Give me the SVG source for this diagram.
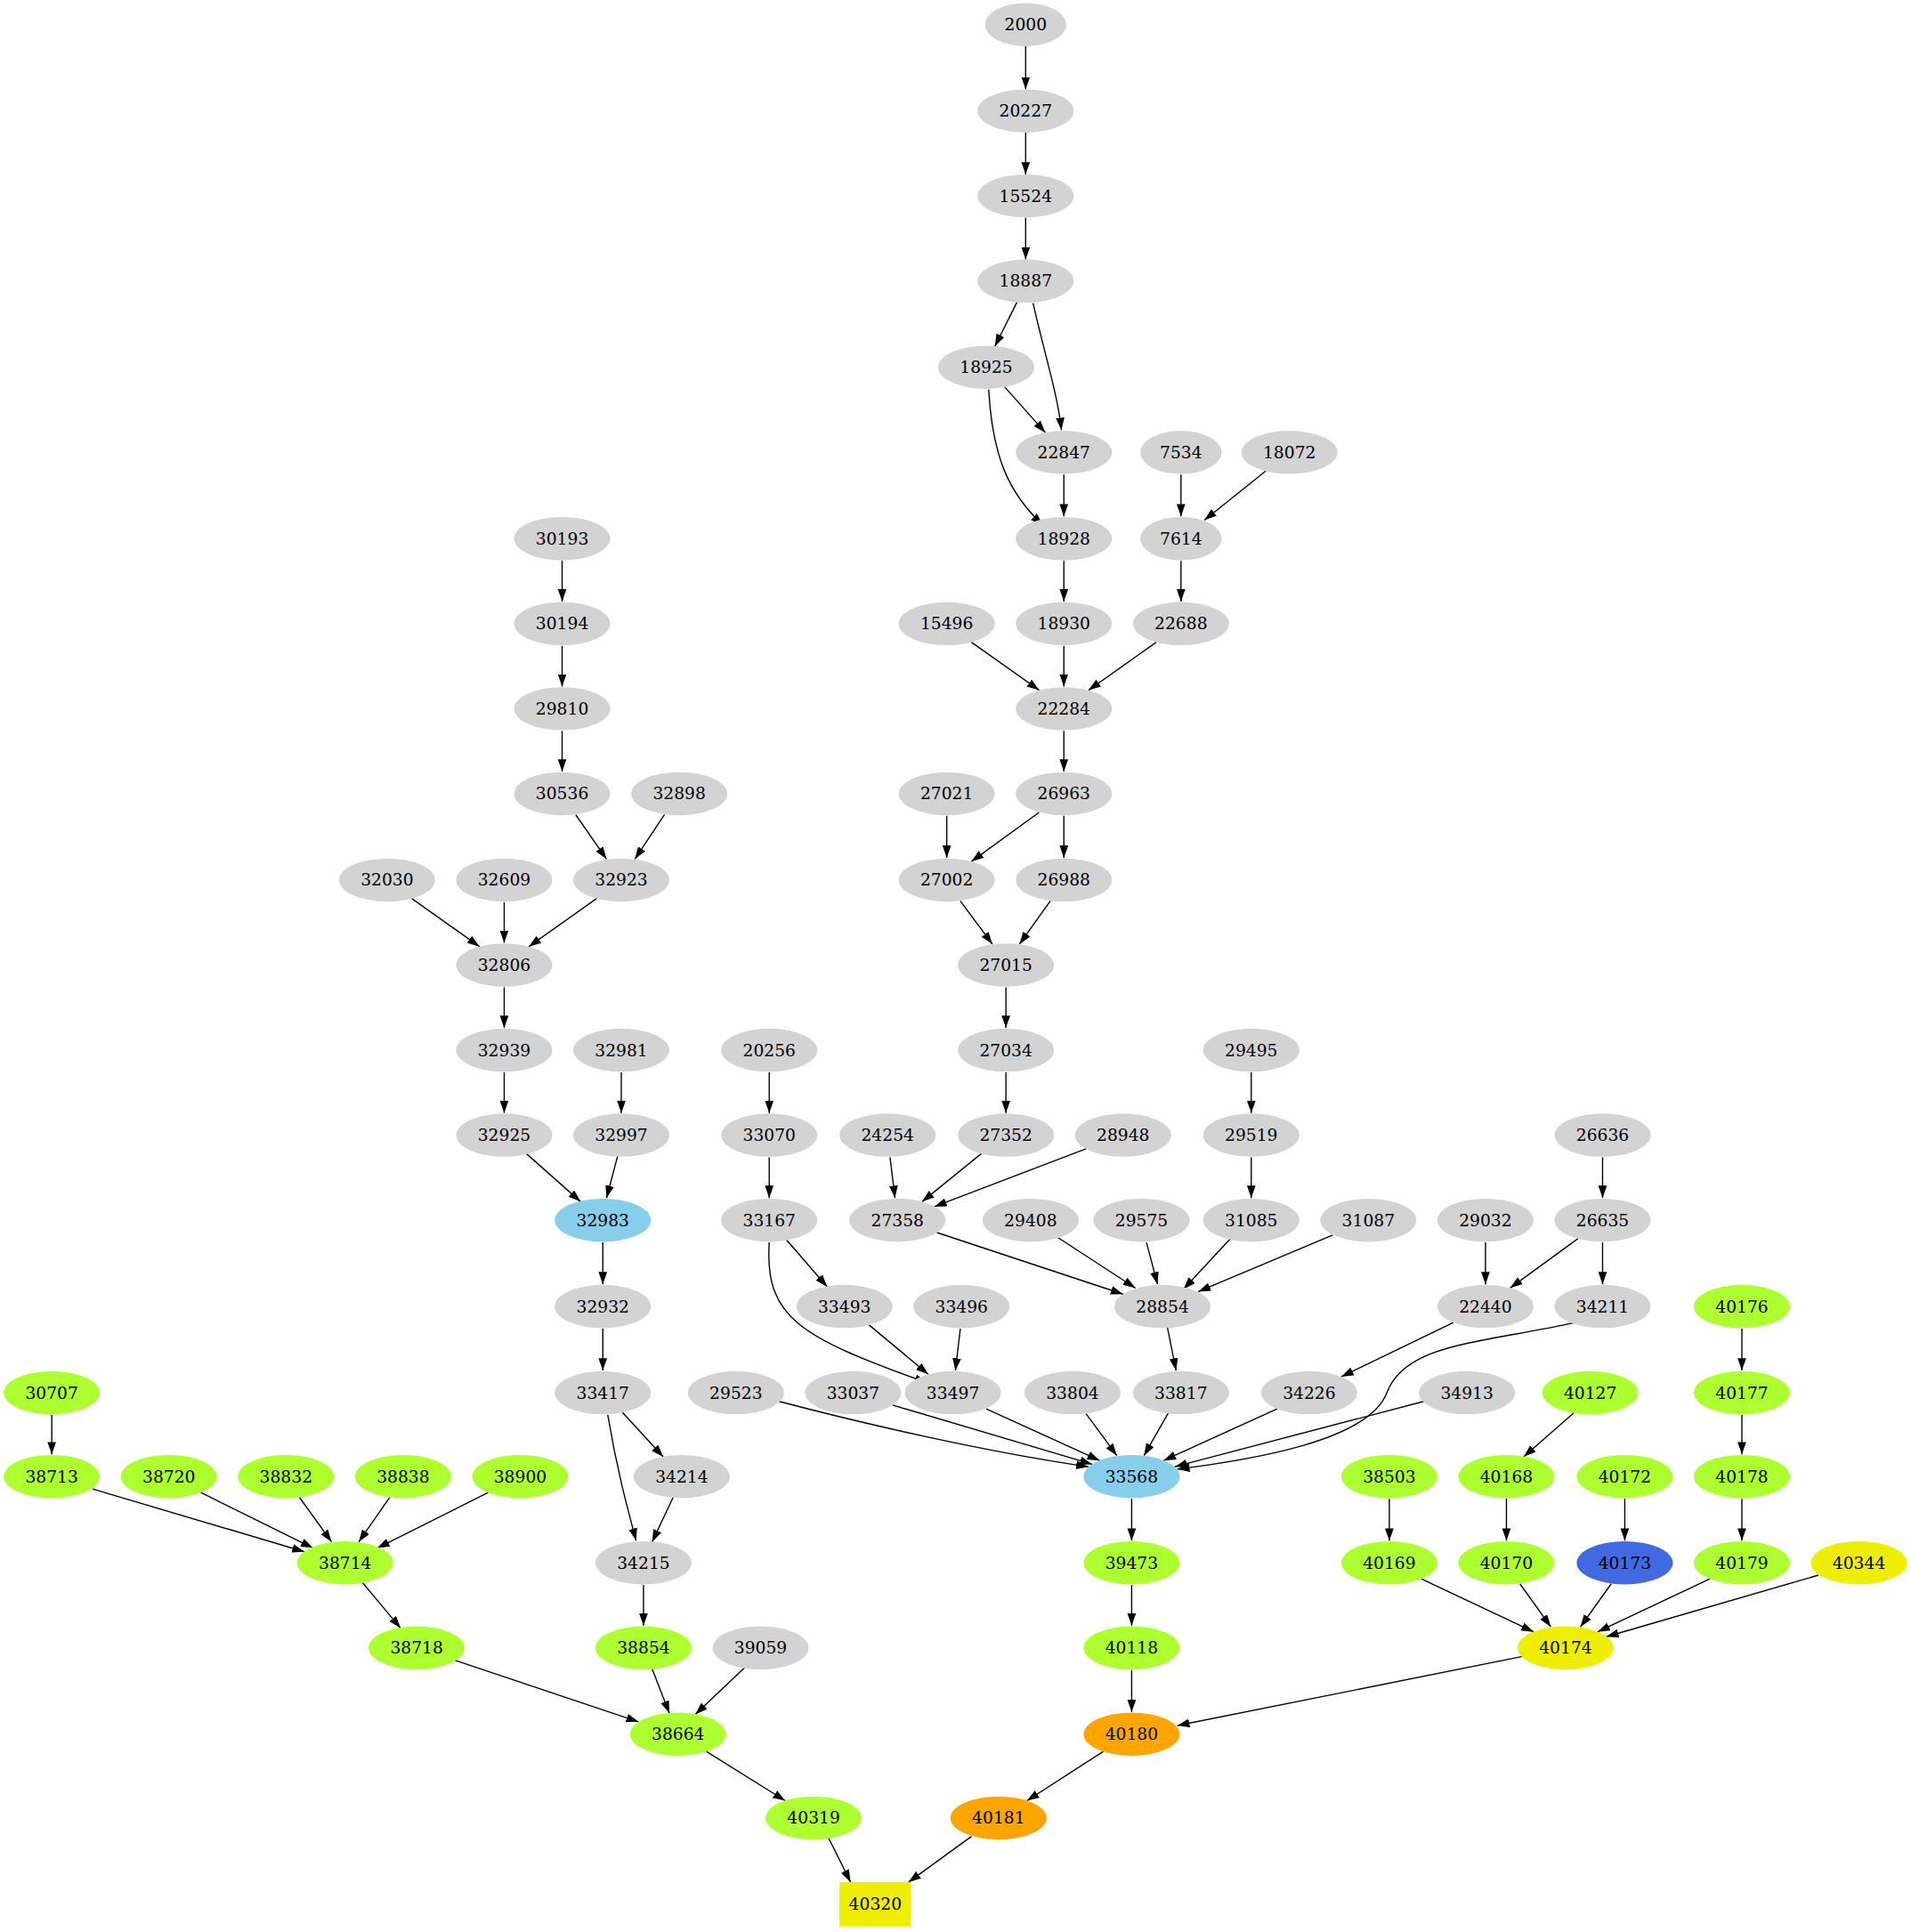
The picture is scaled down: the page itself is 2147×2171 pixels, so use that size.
<svg xmlns="http://www.w3.org/2000/svg" width="2147" height="2171" viewBox="0 0 2147 2171">
<style>
text{font-family:"DejaVu Serif","Liberation Serif",serif;font-size:13.5px;text-anchor:middle;dominant-baseline:central;fill:#000}
.e path{fill:none;stroke:#000;stroke-width:1;marker-end:url(#a)}
.g{fill:#d3d3d3}.gr{fill:#adff2f}.b{fill:#87ceeb}.o{fill:#ffa500}.r{fill:#4169e1}.y{fill:#eeee00}
</style>
<defs><marker id="a" markerUnits="userSpaceOnUse" markerWidth="12" markerHeight="10" refX="10" refY="3.5" orient="auto"><path d="M0,0L10,3.5L0,7z" fill="#000"/></marker></defs>
<rect width="2147" height="2171" fill="#fff"/>
<g transform="scale(1.385)">
<g class="e" id="edges">
<path d="M832,37.5L832,72.5"/><path d="M832,107.5L832,141.5"/><path d="M832,176.5L832,210.5"/>
<path d="M825,245L807,281"/><path d="M838,246C848,290 858,320 861,349"/><path d="M815,314L848,351"/>
<path d="M802,316C805,370 818,400 846,426"/><path d="M863,385L863,419"/><path d="M958,385L958,419"/>
<path d="M1027,382L977,422"/><path d="M456,455L456,488"/><path d="M863,455L863,488"/><path d="M958,455L958,488"/>
<path d="M788,521L843,560"/><path d="M863,524L863,557"/><path d="M938,521L883,560"/><path d="M456,524L456,557"/>
<path d="M863,593L863,626"/><path d="M456,593L456,626"/><path d="M768,662L768,696"/><path d="M843,659L788,699"/>
<path d="M863,662L863,696"/><path d="M467,661L492,697"/><path d="M539,661L515,697"/><path d="M334,729L389,768"/>
<path d="M409,732L409,765"/><path d="M484,729L429,768"/><path d="M779,731L805,766"/><path d="M852,731L827,766"/>
<path d="M409,801L409,834"/><path d="M816,801L816,834"/><path d="M504,870L504,903"/><path d="M624,870L624,903"/>
<path d="M816,870L816,903"/><path d="M1015,870L1015,903"/><path d="M409,870L409,903"/><path d="M427,936L471,975"/>
<path d="M501,938L492,972"/><path d="M624,939L624,972"/><path d="M722,939L726,972"/><path d="M796,936L748,975"/>
<path d="M881,932L758,979"/><path d="M1015,939L1015,972"/><path d="M1300,939L1300,972"/><path d="M489,1008L489,1042"/>
<path d="M638,1006L671,1044"/><path d="M624,1008C620,1070 650,1085 752,1122"/><path d="M705,1075L753,1115"/>
<path d="M779,1078L775,1112"/><path d="M760,1000L911,1050"/><path d="M858,1004L921,1045"/><path d="M930,1008L939,1042"/>
<path d="M998,1005L960,1046"/><path d="M1081,1002L972,1048"/><path d="M1205,1008L1205,1042"/><path d="M1280,1005L1225,1045"/>
<path d="M1300,1008L1300,1042"/><path d="M489,1078L489,1112"/><path d="M947,1077L954,1112"/><path d="M1179,1073L1088,1117"/>
<path d="M1413,1078L1413,1112"/><path d="M42,1148L42,1180"/><path d="M505,1146L538,1182"/>
<path d="M493,1148C500,1190 508,1220 516,1250"/><path d="M546,1215L529,1251"/>
<path d="M632,1137C700,1155 800,1178 883,1190"/><path d="M724,1140L886,1188"/><path d="M800,1143L892,1185"/>
<path d="M881,1147L906,1181"/><path d="M948,1146L928,1181"/><path d="M1036,1143L944,1185"/><path d="M1155,1137L953,1190"/>
<path d="M1278,1073C1200,1090 1140,1090 1125,1130C1110,1170 1010,1185 955,1192"/>
<path d="M1277,1146L1236,1182"/><path d="M1413,1148L1413,1180"/><path d="M75,1208L247,1259"/><path d="M163,1211L254,1256"/>
<path d="M243,1215L269,1251"/><path d="M316,1215L291,1251"/><path d="M396,1211L306,1256"/><path d="M918,1216L918,1250"/>
<path d="M1127,1216L1127,1250"/><path d="M1222,1216L1222,1250"/><path d="M1318,1216L1318,1250"/><path d="M1413,1216L1413,1250"/>
<path d="M294,1284L325,1321"/><path d="M522,1286L522,1319"/><path d="M918,1286L918,1319"/><path d="M1153,1281L1244,1324"/>
<path d="M1233,1285L1258,1320"/><path d="M1307,1285L1282,1320"/><path d="M1387,1281L1296,1324"/><path d="M1475,1278L1303,1328"/>
<path d="M369,1347L518,1397"/><path d="M529,1354L543,1390"/><path d="M604,1353L564,1391"/><path d="M918,1355L918,1389"/>
<path d="M1235,1344L955,1400"/><path d="M573,1421L637,1461"/><path d="M895,1421L833,1461"/>
<path d="M672,1491L690,1527"/><path d="M788,1490L737,1527"/>
</g>
<g id="n2000"><ellipse class="g" cx="832" cy="20" rx="33" ry="17.5"/><text x="832" y="20">2000</text></g>
<g id="n20227"><ellipse class="g" cx="832" cy="90" rx="39" ry="17.5"/><text x="832" y="90">20227</text></g>
<g id="n15524"><ellipse class="g" cx="832" cy="159" rx="39" ry="17.5"/><text x="832" y="159">15524</text></g>
<g id="n18887"><ellipse class="g" cx="832" cy="228" rx="39" ry="17.5"/><text x="832" y="228">18887</text></g>
<g id="n18925"><ellipse class="g" cx="800" cy="298" rx="39" ry="17.5"/><text x="800" y="298">18925</text></g>
<g id="n22847"><ellipse class="g" cx="863" cy="367" rx="39" ry="17.5"/><text x="863" y="367">22847</text></g>
<g id="n7534"><ellipse class="g" cx="958" cy="367" rx="33" ry="17.5"/><text x="958" y="367">7534</text></g>
<g id="n18072"><ellipse class="g" cx="1046" cy="367" rx="39" ry="17.5"/><text x="1046" y="367">18072</text></g>
<g id="n30193"><ellipse class="g" cx="456" cy="437" rx="39" ry="17.5"/><text x="456" y="437">30193</text></g>
<g id="n18928"><ellipse class="g" cx="863" cy="437" rx="39" ry="17.5"/><text x="863" y="437">18928</text></g>
<g id="n7614"><ellipse class="g" cx="958" cy="437" rx="33" ry="17.5"/><text x="958" y="437">7614</text></g>
<g id="n30194"><ellipse class="g" cx="456" cy="506" rx="39" ry="17.5"/><text x="456" y="506">30194</text></g>
<g id="n15496"><ellipse class="g" cx="768" cy="506" rx="39" ry="17.5"/><text x="768" y="506">15496</text></g>
<g id="n18930"><ellipse class="g" cx="863" cy="506" rx="39" ry="17.5"/><text x="863" y="506">18930</text></g>
<g id="n22688"><ellipse class="g" cx="958" cy="506" rx="39" ry="17.5"/><text x="958" y="506">22688</text></g>
<g id="n29810"><ellipse class="g" cx="456" cy="575" rx="39" ry="17.5"/><text x="456" y="575">29810</text></g>
<g id="n22284"><ellipse class="g" cx="863" cy="575" rx="39" ry="17.5"/><text x="863" y="575">22284</text></g>
<g id="n30536"><ellipse class="g" cx="456" cy="644" rx="39" ry="17.5"/><text x="456" y="644">30536</text></g>
<g id="n32898"><ellipse class="g" cx="551" cy="644" rx="39" ry="17.5"/><text x="551" y="644">32898</text></g>
<g id="n27021"><ellipse class="g" cx="768" cy="644" rx="39" ry="17.5"/><text x="768" y="644">27021</text></g>
<g id="n26963"><ellipse class="g" cx="863" cy="644" rx="39" ry="17.5"/><text x="863" y="644">26963</text></g>
<g id="n32030"><ellipse class="g" cx="314" cy="714" rx="39" ry="17.5"/><text x="314" y="714">32030</text></g>
<g id="n32609"><ellipse class="g" cx="409" cy="714" rx="39" ry="17.5"/><text x="409" y="714">32609</text></g>
<g id="n32923"><ellipse class="g" cx="504" cy="714" rx="39" ry="17.5"/><text x="504" y="714">32923</text></g>
<g id="n27002"><ellipse class="g" cx="768" cy="714" rx="39" ry="17.5"/><text x="768" y="714">27002</text></g>
<g id="n26988"><ellipse class="g" cx="863" cy="714" rx="39" ry="17.5"/><text x="863" y="714">26988</text></g>
<g id="n32806"><ellipse class="g" cx="409" cy="783" rx="39" ry="17.5"/><text x="409" y="783">32806</text></g>
<g id="n27015"><ellipse class="g" cx="816" cy="783" rx="39" ry="17.5"/><text x="816" y="783">27015</text></g>
<g id="n32939"><ellipse class="g" cx="409" cy="852" rx="39" ry="17.5"/><text x="409" y="852">32939</text></g>
<g id="n32981"><ellipse class="g" cx="504" cy="852" rx="39" ry="17.5"/><text x="504" y="852">32981</text></g>
<g id="n20256"><ellipse class="g" cx="624" cy="852" rx="39" ry="17.5"/><text x="624" y="852">20256</text></g>
<g id="n27034"><ellipse class="g" cx="816" cy="852" rx="39" ry="17.5"/><text x="816" y="852">27034</text></g>
<g id="n29495"><ellipse class="g" cx="1015" cy="852" rx="39" ry="17.5"/><text x="1015" y="852">29495</text></g>
<g id="n32925"><ellipse class="g" cx="409" cy="921" rx="39" ry="17.5"/><text x="409" y="921">32925</text></g>
<g id="n32997"><ellipse class="g" cx="504" cy="921" rx="39" ry="17.5"/><text x="504" y="921">32997</text></g>
<g id="n33070"><ellipse class="g" cx="624" cy="921" rx="39" ry="17.5"/><text x="624" y="921">33070</text></g>
<g id="n24254"><ellipse class="g" cx="720" cy="921" rx="39" ry="17.5"/><text x="720" y="921">24254</text></g>
<g id="n27352"><ellipse class="g" cx="816" cy="921" rx="39" ry="17.5"/><text x="816" y="921">27352</text></g>
<g id="n28948"><ellipse class="g" cx="911" cy="921" rx="39" ry="17.5"/><text x="911" y="921">28948</text></g>
<g id="n29519"><ellipse class="g" cx="1015" cy="921" rx="39" ry="17.5"/><text x="1015" y="921">29519</text></g>
<g id="n26636"><ellipse class="g" cx="1300" cy="921" rx="39" ry="17.5"/><text x="1300" y="921">26636</text></g>
<g id="n32983"><ellipse class="b" cx="489" cy="990" rx="39" ry="17.5"/><text x="489" y="990">32983</text></g>
<g id="n33167"><ellipse class="g" cx="624" cy="990" rx="39" ry="17.5"/><text x="624" y="990">33167</text></g>
<g id="n27358"><ellipse class="g" cx="728" cy="990" rx="39" ry="17.5"/><text x="728" y="990">27358</text></g>
<g id="n29408"><ellipse class="g" cx="836" cy="990" rx="39" ry="17.5"/><text x="836" y="990">29408</text></g>
<g id="n29575"><ellipse class="g" cx="926" cy="990" rx="39" ry="17.5"/><text x="926" y="990">29575</text></g>
<g id="n31085"><ellipse class="g" cx="1015" cy="990" rx="39" ry="17.5"/><text x="1015" y="990">31085</text></g>
<g id="n31087"><ellipse class="g" cx="1110" cy="990" rx="39" ry="17.5"/><text x="1110" y="990">31087</text></g>
<g id="n29032"><ellipse class="g" cx="1205" cy="990" rx="39" ry="17.5"/><text x="1205" y="990">29032</text></g>
<g id="n26635"><ellipse class="g" cx="1300" cy="990" rx="39" ry="17.5"/><text x="1300" y="990">26635</text></g>
<g id="n32932"><ellipse class="g" cx="489" cy="1060" rx="39" ry="17.5"/><text x="489" y="1060">32932</text></g>
<g id="n33493"><ellipse class="g" cx="685" cy="1060" rx="39" ry="17.5"/><text x="685" y="1060">33493</text></g>
<g id="n33496"><ellipse class="g" cx="780" cy="1060" rx="39" ry="17.5"/><text x="780" y="1060">33496</text></g>
<g id="n28854"><ellipse class="g" cx="943" cy="1060" rx="39" ry="17.5"/><text x="943" y="1060">28854</text></g>
<g id="n22440"><ellipse class="g" cx="1205" cy="1060" rx="39" ry="17.5"/><text x="1205" y="1060">22440</text></g>
<g id="n34211"><ellipse class="g" cx="1300" cy="1060" rx="39" ry="17.5"/><text x="1300" y="1060">34211</text></g>
<g id="n40176"><ellipse class="gr" cx="1413" cy="1060" rx="39" ry="17.5"/><text x="1413" y="1060">40176</text></g>
<g id="n30707"><ellipse class="gr" cx="42" cy="1130" rx="39" ry="17.5"/><text x="42" y="1130">30707</text></g>
<g id="n33417"><ellipse class="g" cx="489" cy="1130" rx="39" ry="17.5"/><text x="489" y="1130">33417</text></g>
<g id="n29523"><ellipse class="g" cx="597" cy="1130" rx="39" ry="17.5"/><text x="597" y="1130">29523</text></g>
<g id="n33037"><ellipse class="g" cx="692" cy="1130" rx="39" ry="17.5"/><text x="692" y="1130">33037</text></g>
<g id="n33497"><ellipse class="g" cx="773" cy="1130" rx="39" ry="17.5"/><text x="773" y="1130">33497</text></g>
<g id="n33804"><ellipse class="g" cx="870" cy="1130" rx="39" ry="17.5"/><text x="870" y="1130">33804</text></g>
<g id="n33817"><ellipse class="g" cx="958" cy="1130" rx="39" ry="17.5"/><text x="958" y="1130">33817</text></g>
<g id="n34226"><ellipse class="g" cx="1062" cy="1130" rx="39" ry="17.5"/><text x="1062" y="1130">34226</text></g>
<g id="n34913"><ellipse class="g" cx="1190" cy="1130" rx="39" ry="17.5"/><text x="1190" y="1130">34913</text></g>
<g id="n40127"><ellipse class="gr" cx="1290" cy="1130" rx="39" ry="17.5"/><text x="1290" y="1130">40127</text></g>
<g id="n40177"><ellipse class="gr" cx="1413" cy="1130" rx="39" ry="17.5"/><text x="1413" y="1130">40177</text></g>
<g id="n38713"><ellipse class="gr" cx="42" cy="1198" rx="39" ry="17.5"/><text x="42" y="1198">38713</text></g>
<g id="n38720"><ellipse class="gr" cx="137" cy="1198" rx="39" ry="17.5"/><text x="137" y="1198">38720</text></g>
<g id="n38832"><ellipse class="gr" cx="232" cy="1198" rx="39" ry="17.5"/><text x="232" y="1198">38832</text></g>
<g id="n38838"><ellipse class="gr" cx="327" cy="1198" rx="39" ry="17.5"/><text x="327" y="1198">38838</text></g>
<g id="n38900"><ellipse class="gr" cx="422" cy="1198" rx="39" ry="17.5"/><text x="422" y="1198">38900</text></g>
<g id="n34214"><ellipse class="g" cx="553" cy="1198" rx="39" ry="17.5"/><text x="553" y="1198">34214</text></g>
<g id="n33568"><ellipse class="b" cx="918" cy="1198" rx="39" ry="17.5"/><text x="918" y="1198">33568</text></g>
<g id="n38503"><ellipse class="gr" cx="1127" cy="1198" rx="39" ry="17.5"/><text x="1127" y="1198">38503</text></g>
<g id="n40168"><ellipse class="gr" cx="1222" cy="1198" rx="39" ry="17.5"/><text x="1222" y="1198">40168</text></g>
<g id="n40172"><ellipse class="gr" cx="1318" cy="1198" rx="39" ry="17.5"/><text x="1318" y="1198">40172</text></g>
<g id="n40178"><ellipse class="gr" cx="1413" cy="1198" rx="39" ry="17.5"/><text x="1413" y="1198">40178</text></g>
<g id="n38714"><ellipse class="gr" cx="280" cy="1268" rx="39" ry="17.5"/><text x="280" y="1268">38714</text></g>
<g id="n34215"><ellipse class="g" cx="522" cy="1268" rx="39" ry="17.5"/><text x="522" y="1268">34215</text></g>
<g id="n39473"><ellipse class="gr" cx="918" cy="1268" rx="39" ry="17.5"/><text x="918" y="1268">39473</text></g>
<g id="n40169"><ellipse class="gr" cx="1127" cy="1268" rx="39" ry="17.5"/><text x="1127" y="1268">40169</text></g>
<g id="n40170"><ellipse class="gr" cx="1222" cy="1268" rx="39" ry="17.5"/><text x="1222" y="1268">40170</text></g>
<g id="n40173"><ellipse class="r" cx="1318" cy="1268" rx="39" ry="17.5"/><text x="1318" y="1268">40173</text></g>
<g id="n40179"><ellipse class="gr" cx="1413" cy="1268" rx="39" ry="17.5"/><text x="1413" y="1268">40179</text></g>
<g id="n40344"><ellipse class="y" cx="1508" cy="1268" rx="39" ry="17.5"/><text x="1508" y="1268">40344</text></g>
<g id="n38718"><ellipse class="gr" cx="338" cy="1337" rx="39" ry="17.5"/><text x="338" y="1337">38718</text></g>
<g id="n38854"><ellipse class="gr" cx="522" cy="1337" rx="39" ry="17.5"/><text x="522" y="1337">38854</text></g>
<g id="n39059"><ellipse class="g" cx="617" cy="1337" rx="39" ry="17.5"/><text x="617" y="1337">39059</text></g>
<g id="n40118"><ellipse class="gr" cx="918" cy="1337" rx="39" ry="17.5"/><text x="918" y="1337">40118</text></g>
<g id="n40174"><ellipse class="y" cx="1270" cy="1337" rx="39" ry="17.5"/><text x="1270" y="1337">40174</text></g>
<g id="n38664"><ellipse class="gr" cx="550" cy="1407" rx="39" ry="17.5"/><text x="550" y="1407">38664</text></g>
<g id="n40180"><ellipse class="o" cx="918" cy="1407" rx="39" ry="17.5"/><text x="918" y="1407">40180</text></g>
<g id="n40319"><ellipse class="gr" cx="660" cy="1475" rx="39" ry="17.5"/><text x="660" y="1475">40319</text></g>
<g id="n40181"><ellipse class="o" cx="810" cy="1475" rx="39" ry="17.5"/><text x="810" y="1475">40181</text></g>
<g id="n40320"><rect class="y" x="681" y="1527" width="58" height="36"/><text x="710" y="1545">40320</text></g>
</g>
</svg>
